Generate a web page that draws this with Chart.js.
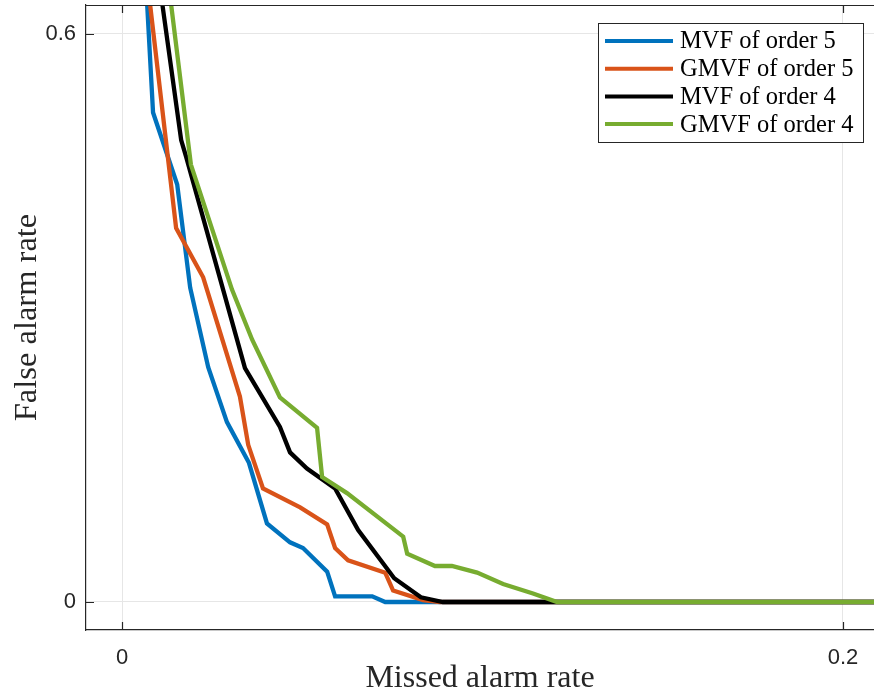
<!DOCTYPE html>
<html>
<head>
<meta charset="utf-8">
<script src="https://cdn.jsdelivr.net/npm/chart.js"></script>
<style>
  html, body { margin: 0; padding: 0; background: #fff; }
</style>
</head>
<body>
<canvas id="myChart" width="874" height="698"></canvas>
<script>
// values
const mvf5X = [0.0067, 0.0086, 0.0153, 0.0189, 0.0239, 0.0291, 0.0352, 0.0402, 0.0466, 0.0502, 0.0569, 0.0591, 0.0694, 0.0730, 0.21];
const mvf5Y = [0.65, 0.517, 0.441, 0.332, 0.248, 0.190, 0.147, 0.083, 0.063, 0.057, 0.032, 0.006, 0.006, 0, 0];

const gmvf5X = [0.0072, 0.0150, 0.0225, 0.0327, 0.0350, 0.0391, 0.0494, 0.0569, 0.0591, 0.0627, 0.0730, 0.0752, 0.0835, 0.0882, 0.21];
const gmvf5Y = [0.65, 0.395, 0.343, 0.217, 0.166, 0.120, 0.100, 0.082, 0.057, 0.044, 0.031, 0.012, 0.002, 0, 0];

const mvf4X = [0.0105, 0.0164, 0.0178, 0.0341, 0.0438, 0.0466, 0.0513, 0.0591, 0.0655, 0.0755, 0.0829, 0.0890, 0.21];
const mvf4Y = [0.65, 0.488, 0.470, 0.247, 0.185, 0.158, 0.141, 0.120, 0.076, 0.025, 0.005, 0, 0];

const gmvf4X = [0.0130, 0.0191, 0.0305, 0.0361, 0.0438, 0.0541, 0.0555, 0.0624, 0.0780, 0.0791, 0.0868, 0.0915, 0.0985, 0.1057, 0.1140, 0.1207, 0.21];
const gmvf4Y = [0.65, 0.462, 0.330, 0.277, 0.216, 0.184, 0.132, 0.115, 0.069, 0.051, 0.038, 0.038, 0.031, 0.019, 0.009, 0, 0];

const seriesLabels = ['MVF of order 5', 'GMVF of order 5', 'MVF of order 4', 'GMVF of order 4'];
const seriesColors = ['#0072BD', '#D95319', '#000000', '#77AC30'];

const xTickVals = [0, 0.2];
const xTickLabels = ['0', '0.2'];
const yTickVals = [0, 0.6];
const yTickLabels = ['0', '0.6'];

const xTitle = 'Missed alarm rate';
const yTitle = 'False alarm rate';

const toPts = (xs, ys) => xs.map((x, i) => ({ x: x, y: ys[i] }));
const seriesData = [toPts(mvf5X, mvf5Y), toPts(gmvf5X, gmvf5Y), toPts(mvf4X, mvf4Y), toPts(gmvf4X, gmvf4Y)];

const AXIS = '#262626';
const serif = '"Liberation Serif", "DejaVu Serif", serif';
const sans = '"Liberation Sans", Arial, sans-serif';

// matlab-like box: top edge, inward ticks, legend inside the axes
const matlabBits = {
  id: 'matlabBits',
  afterDatasetsDraw(chart) {
    const ctx = chart.ctx;
    const a = chart.chartArea;
    const xs = chart.scales.x, ys = chart.scales.y;
    const tl = 8;
    ctx.save();
    ctx.strokeStyle = AXIS;
    ctx.lineWidth = 1.2;
    ctx.beginPath();
    ctx.moveTo(a.left, a.top + 0.5);
    ctx.lineTo(a.right, a.top + 0.5);
    xTickVals.forEach(v => {
      const px = Math.round(xs.getPixelForValue(v)) + 0.5;
      ctx.moveTo(px, a.bottom); ctx.lineTo(px, a.bottom - tl);
      ctx.moveTo(px, a.top); ctx.lineTo(px, a.top + tl);
    });
    yTickVals.forEach(v => {
      const py = Math.round(ys.getPixelForValue(v)) + 0.5;
      ctx.moveTo(a.left, py); ctx.lineTo(a.left + tl, py);
    });
    ctx.stroke();

    // legend
    const lx = 598.5, ly = 23.5, lw = 265, lh = 119;
    ctx.fillStyle = '#fff';
    ctx.fillRect(lx, ly, lw, lh);
    ctx.strokeStyle = AXIS;
    ctx.lineWidth = 1;
    ctx.strokeRect(lx, ly, lw, lh);
    ctx.font = '24.5px ' + serif;
    ctx.textBaseline = 'middle';
    ctx.textAlign = 'left';
    chart.data.datasets.forEach((ds, i) => {
      const cy = 41 + i * 27.7;
      ctx.strokeStyle = ds.borderColor;
      ctx.lineWidth = 4;
      ctx.beginPath();
      ctx.moveTo(605, cy); ctx.lineTo(673, cy);
      ctx.stroke();
      ctx.fillStyle = '#000';
      ctx.fillText(ds.label, 680, cy + 1);
    });
    ctx.restore();
  }
};

const ctx = document.getElementById('myChart').getContext('2d');
new Chart(ctx, {
  type: 'line',
  data: {
    datasets: seriesData.map((pts, i) => ({
      label: seriesLabels[i],
      data: pts,
      borderColor: seriesColors[i],
      backgroundColor: seriesColors[i],
      borderWidth: 4.3,
      pointRadius: 0,
      tension: 0,
      fill: false,
      clip: 0,
      order: 4 - i
    }))
  },
  options: {
    responsive: false,
    animation: false,
    devicePixelRatio: 1,
    layout: { padding: { top: 5, right: 0, bottom: 0, left: 0 } },
    plugins: { legend: { display: false }, tooltip: { enabled: false } },
    scales: {
      x: {
        type: 'linear',
        min: -0.01,
        max: 0.2086,
        afterBuildTicks: s => { s.ticks = xTickVals.map(v => ({ value: v })); },
        afterFit: s => { s.height = 68; s.paddingLeft = 0; s.paddingRight = 0; },
        ticks: {
          callback: (v) => xTickLabels[xTickVals.indexOf(v)],
          font: { family: sans, size: 22 },
          color: AXIS,
          padding: 15,
          maxRotation: 0
        },
        grid: { color: '#e6e6e6', lineWidth: 1, drawTicks: false },
        border: { color: AXIS, width: 1.2 },
        title: {
          display: true,
          text: xTitle,
          font: { family: serif, size: 32 },
          color: '#262626',
          padding: { top: 0, bottom: 0 }
        }
      },
      y: {
        type: 'linear',
        min: -0.0296,
        max: 0.6306,
        afterBuildTicks: s => { s.ticks = yTickVals.map(v => ({ value: v })); },
        afterFit: s => { s.width = 86; s.paddingTop = 0; s.paddingBottom = 0; },
        ticks: {
          callback: (v) => yTickLabels[yTickVals.indexOf(v)],
          font: { family: sans, size: 22 },
          color: AXIS,
          padding: 10
        },
        grid: { color: '#e6e6e6', lineWidth: 1, drawTicks: false },
        border: { color: AXIS, width: 1.2 },
        title: {
          display: true,
          text: yTitle,
          font: { family: serif, size: 32.5 },
          color: '#262626',
          padding: { top: 8, bottom: 0 }
        }
      }
    }
  },
  plugins: [matlabBits]
});
</script>
</body>
</html>
